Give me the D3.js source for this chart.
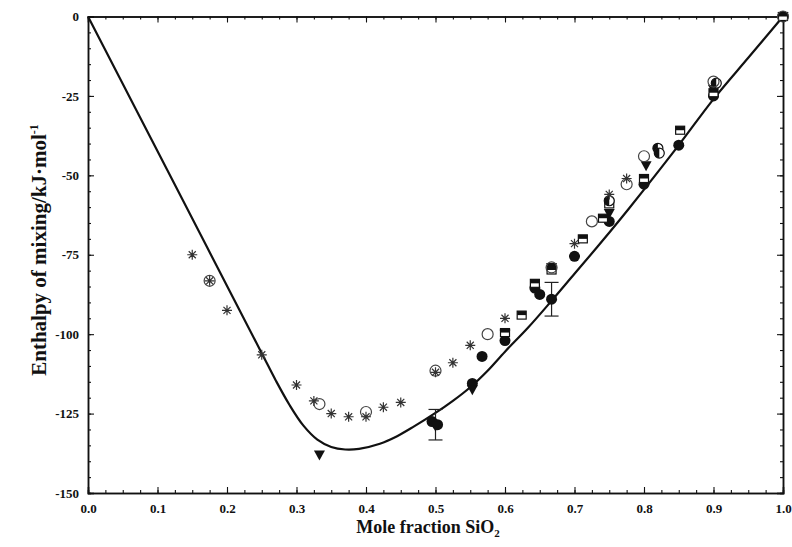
<!DOCTYPE html>
<html>
<head>
<meta charset="utf-8">
<script src="https://cdn.jsdelivr.net/npm/d3@7/dist/d3.min.js"></script>
<style>
  html, body { margin: 0; padding: 0; background: #fff; }
  svg { display: block; }
  .tick text { font-family: "Liberation Serif", "Times New Roman", serif; font-weight: bold; font-size: 13px; fill: #111; }
</style>
</head>
<body>
<svg id="chart" width="792" height="547"></svg>
<script>
// Model curve: enthalpy of mixing vs mole fraction SiO2
const curveX = [0, 0.125, 0.25, 0.27, 0.29, 0.31, 0.33, 0.35, 0.37, 0.39, 0.42, 0.444, 0.468, 0.5, 0.525, 0.55, 0.575, 0.6, 0.633, 0.667, 0.7, 0.733, 0.767, 0.8, 0.85, 0.9, 0.95, 1.0];
const curveY = [0, -53, -106, -114.5, -122.3, -128.8, -133.2, -135.5, -136.3, -136.1, -134.5, -132.2, -129.2, -124.8, -121, -116.7, -111.5, -105.5, -98, -89.5, -81, -72.5, -63.5, -54.5, -40.5, -26, -13, 0];

// Experimental data sets
const starX = [0.15, 0.175, 0.2, 0.25, 0.3, 0.325, 0.35, 0.375, 0.4, 0.425, 0.45, 0.5, 0.525, 0.55, 0.6, 0.7, 0.75, 0.775];
const starY = [-75, -83.2, -92.5, -106.5, -116, -121, -125, -126, -126, -123, -121.5, -112, -109, -103.5, -95, -71.5, -56, -51];

const openX = [0.175, 0.333, 0.4, 0.5, 0.575, 0.667, 0.725, 0.775, 0.8, 0.9, 1.0];
const openY = [-83.2, -122, -124.5, -111.5, -100, -79, -64.5, -52.8, -44, -20.5, 0];

const filledX = [0.495, 0.503, 0.553, 0.567, 0.6, 0.643, 0.65, 0.667, 0.7, 0.75, 0.8, 0.85, 0.9, 1.0];
const filledY = [-127.5, -128.5, -115.5, -107, -102, -85.5, -87.5, -89, -75.5, -64.5, -52.8, -40.5, -25, 0];

const triX = [0.333, 0.5, 0.553, 0.6, 0.667, 0.75, 0.803, 0.9, 1.0];
const triY = [-138, -129, -117.5, -100, -79, -62, -47, -23, 0];

const squareX = [0.6, 0.624, 0.643, 0.667, 0.712, 0.741, 0.75, 0.8, 0.852, 0.9, 1.0];
const squareY = [-99.5, -94, -84, -79.8, -70, -63.5, -59, -51, -35.8, -24, 0];

const halfX = [0.75, 0.82, 0.822, 0.904];
const halfY = [-58, -41.5, -43, -21];

// Error bars: x, centre, half-width
const errX = [0.5, 0.667];
const errY = [-128.5, -89];
const errD = [4.8, 5.3];

// Axis ticks
const xTicks = [0, 0.1, 0.2, 0.3, 0.4, 0.5, 0.6, 0.7, 0.8, 0.9, 1.0];
const xTickLabels = ["0.0", "0.1", "0.2", "0.3", "0.4", "0.5", "0.6", "0.7", "0.8", "0.9", "1.0"];
const yTicks = [0, -25, -50, -75, -100, -125, -150];
const yTickLabels = ["0", "-25", "-50", "-75", "-100", "-125", "-150"];

const svg = d3.select("#chart");
const mLeft = 88, mRight = 783, mTop = 16.5, mBottom = 493;
const x = d3.scaleLinear().domain([0, 1]).range([mLeft, mRight]);
const y = d3.scaleLinear().domain([-150, 0]).range([mBottom, mTop]);

const xMinor = d3.range(0, 1.0001, 0.025).map(v => +v.toFixed(3));
const yMinor = d3.range(-150, 0.001, 5);

function styleAxis(g) {
  g.select(".domain").attr("stroke", "#111").attr("stroke-width", 1.5);
  g.selectAll(".tick line").attr("stroke", "#111").attr("stroke-width", 1.1);
}

// minor ticks on all four sides
[[d3.axisBottom(x), mBottom], [d3.axisTop(x), mTop]].forEach(([ax, pos]) => {
  svg.append("g").attr("transform", `translate(0,${pos})`)
    .call(ax.tickValues(xMinor).tickSize(-3).tickFormat(""))
    .call(styleAxis);
});
[[d3.axisLeft(y), mLeft], [d3.axisRight(y), mRight]].forEach(([ax, pos]) => {
  svg.append("g").attr("transform", `translate(${pos},0)`)
    .call(ax.tickValues(yMinor).tickSize(-3).tickFormat(""))
    .call(styleAxis);
});

// major ticks + labels
svg.append("g").attr("transform", `translate(0,${mBottom})`)
  .call(d3.axisBottom(x).tickValues(xTicks).tickSize(-6).tickPadding(11)
    .tickFormat((d, i) => xTickLabels[i]))
  .call(styleAxis);
svg.append("g").attr("transform", `translate(0,${mTop})`)
  .call(d3.axisTop(x).tickValues(xTicks).tickSize(-6).tickFormat(""))
  .call(styleAxis);
svg.append("g").attr("transform", `translate(${mLeft},0)`)
  .call(d3.axisLeft(y).tickValues(yTicks).tickSize(-6).tickPadding(9)
    .tickFormat((d, i) => yTickLabels[i]))
  .call(styleAxis);
svg.append("g").attr("transform", `translate(${mRight},0)`)
  .call(d3.axisRight(y).tickValues(yTicks).tickSize(-6).tickFormat(""))
  .call(styleAxis);

// model curve
const curvePts = curveX.map((v, i) => [v, curveY[i]]);
svg.append("path")
  .datum(curvePts)
  .attr("fill", "none")
  .attr("stroke", "#111")
  .attr("stroke-width", 2.2)
  .attr("d", d3.line().x(d => x(d[0])).y(d => y(d[1])).curve(d3.curveCatmullRom.alpha(0.5)));

const zip = (a, b) => a.map((v, i) => [v, b[i]]);
const layer = svg.append("g");

// error bars
errX.forEach((ex, i) => {
  const g = layer.append("g").attr("stroke", "#222").attr("stroke-width", 1.2);
  const cx = x(ex), y1 = y(errY[i] + errD[i]), y2 = y(errY[i] - errD[i]);
  g.append("line").attr("x1", cx).attr("x2", cx).attr("y1", y1).attr("y2", y2);
  g.append("line").attr("x1", cx - 7).attr("x2", cx + 7).attr("y1", y1).attr("y2", y1);
  g.append("line").attr("x1", cx - 7).attr("x2", cx + 7).attr("y1", y2).attr("y2", y2);
});

// filled circles
layer.selectAll(".filled").data(zip(filledX, filledY)).join("circle")
  .attr("cx", d => x(d[0])).attr("cy", d => y(d[1])).attr("r", 5.5)
  .attr("fill", "#111");

// inverted triangles
layer.selectAll(".tri").data(zip(triX, triY)).join("path")
  .attr("transform", d => `translate(${x(d[0])},${y(d[1])})`)
  .attr("d", "M-5.5,-4.5 L5.5,-4.5 L0,5.5 Z")
  .attr("fill", "#111");

// squares with filled upper half
const sq = layer.selectAll(".sq").data(zip(squareX, squareY)).join("g")
  .attr("transform", d => `translate(${x(d[0])},${y(d[1])})`);
sq.append("rect").attr("x", -4.5).attr("y", -4).attr("width", 9).attr("height", 8)
  .attr("fill", "#fff").attr("stroke", "#111").attr("stroke-width", 1.2);
sq.append("rect").attr("x", -4.5).attr("y", -4).attr("width", 9).attr("height", 4).attr("fill", "#111");

// half-filled circles
const hc = layer.selectAll(".hc").data(zip(halfX, halfY)).join("g")
  .attr("transform", d => `translate(${x(d[0])},${y(d[1])})`);
hc.append("circle").attr("r", 5).attr("fill", "#fff").attr("stroke", "#111").attr("stroke-width", 1.2);
hc.append("path").attr("d", "M0,-5 A5,5 0 0,0 0,5 Z").attr("fill", "#111");

// open circles
layer.selectAll(".open").data(zip(openX, openY)).join("circle")
  .attr("cx", d => x(d[0])).attr("cy", d => y(d[1])).attr("r", 5.5)
  .attr("fill", "none").attr("stroke", "#444").attr("stroke-width", 1.2);

// asterisks
const starPath = (() => {
  const r = 5, p = [];
  for (let k = 0; k < 4; k++) {
    const a = k * Math.PI / 4;
    p.push(`M${(-r * Math.cos(a)).toFixed(2)},${(-r * Math.sin(a)).toFixed(2)}L${(r * Math.cos(a)).toFixed(2)},${(r * Math.sin(a)).toFixed(2)}`);
  }
  return p.join("");
})();
layer.selectAll(".star").data(zip(starX, starY)).join("path")
  .attr("transform", d => `translate(${x(d[0])},${y(d[1])})`)
  .attr("d", starPath)
  .attr("fill", "none").attr("stroke", "#333").attr("stroke-width", 1.2);

// axis titles
const xt = svg.append("text")
  .attr("x", 428).attr("y", 533)
  .attr("text-anchor", "middle")
  .style("font-family", "'Liberation Serif', 'Times New Roman', serif")
  .style("font-weight", "bold").style("font-size", "18px").attr("fill", "#111");
xt.append("tspan").text("Mole fraction SiO");
xt.append("tspan").attr("dy", 4).style("font-size", "11px").text("2");

const yt = svg.append("text")
  .attr("transform", "translate(46,250) rotate(-90)")
  .attr("text-anchor", "middle")
  .style("font-family", "'Liberation Serif', 'Times New Roman', serif")
  .style("font-weight", "bold").style("font-size", "21px").attr("fill", "#111");
yt.append("tspan").text("Enthalpy of mixing/kJ·mol");
yt.append("tspan").attr("dy", -8).style("font-size", "12px").text("-1");
</script>
</body>
</html>
